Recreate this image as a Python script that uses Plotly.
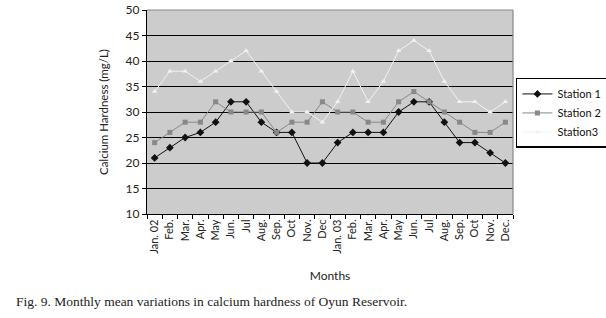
import plotly.graph_objects as go

months = ["Jan. 02", "Feb.", "Mar.", "Apr.", "May", "Jun.", "Jul", "Aug.", "Sep.", "Oct", "Nov.", "Dec",
          "Jan. 03", "Feb.", "Mar.", "Apr.", "May", "Jun.", "Jul", "Aug.", "Sep.", "Oct", "Nov.", "Dec."]
station1 = [21, 23, 25, 26, 28, 32, 32, 28, 26, 26, 20, 20, 24, 26, 26, 26, 30, 32, 32, 28, 24, 24, 22, 20]
station2 = [24, 26, 28, 28, 32, 30, 30, 30, 26, 28, 28, 32, 30, 30, 28, 28, 32, 34, 32, 30, 28, 26, 26, 28]
station3 = [34, 38, 38, 36, 38, 40, 42, 38, 34, 30, 30, 28, 32, 38, 32, 36, 42, 44, 42, 36, 32, 32, 30, 32]
y_ticks = [10, 15, 20, 25, 30, 35, 40, 45, 50]

x = list(range(len(months)))
font = "Lato, Open Sans, DejaVu Sans, sans-serif"

fig = go.Figure()
fig.add_trace(go.Scatter(x=x, y=station1, name="Station 1", mode="lines+markers",
                         line=dict(color="#111111", width=1),
                         marker=dict(symbol="diamond", size=6, color="#111111")))
fig.add_trace(go.Scatter(x=x, y=station2, name="Station 2", mode="lines+markers",
                         line=dict(color="#888888", width=1),
                         marker=dict(symbol="square", size=5, color="#888888")))
fig.add_trace(go.Scatter(x=x, y=station3, name="Station3", mode="lines+markers",
                         line=dict(color="#f2f2f2", width=1),
                         marker=dict(symbol="triangle-up", size=5, color="#f2f2f2")))

fig.update_layout(
    width=606, height=318,
    margin=dict(l=147, r=93, t=10, b=104, autoexpand=False),
    paper_bgcolor="white", plot_bgcolor="#cccccc",
    font=dict(family=font, size=10, color="#222222"),
    showlegend=True,
    legend=dict(x=1.008, y=0.667, xanchor="left", yanchor="top",
                bordercolor="black", borderwidth=1.5, bgcolor="white",
                font=dict(size=11, color="#111111"),
                itemwidth=30),
)
fig.update_xaxes(
    automargin=False,
    range=[-0.5, len(months) - 0.5],
    tickmode="array", tickvals=x, ticktext=months, tickangle=-90,
    ticks="", showgrid=False, zeroline=False,
    showline=True, linecolor="black", linewidth=1.2,
    tickfont=dict(size=11),
    minor=dict(tickvals=[i - 0.5 for i in range(len(months) + 1)], ticks="outside",
               ticklen=4, tickcolor="black", showgrid=False),
    title=dict(text="Months", font=dict(size=12), standoff=18),
)
fig.update_yaxes(
    automargin=False,
    range=[10, 50], tickmode="array", tickvals=y_ticks,
    ticks="outside", ticklen=4, tickcolor="black",
    showgrid=False, zeroline=False,
    showline=True, linecolor="black", linewidth=1.2,
    tickfont=dict(size=12),
    minor=dict(tickvals=y_ticks[1:-1], showgrid=True, gridcolor="black", gridwidth=1, ticks=""),
    title=dict(text="Calcium Hardness (mg/L)", font=dict(size=11.5), standoff=14),
)
fig.add_shape(type="line", xref="x domain", yref="y domain", x0=0, x1=1, y0=1, y1=1,
              line=dict(color="#888888", width=1.2))
fig.add_shape(type="line", xref="x domain", yref="y domain", x0=1, x1=1, y0=0, y1=1,
              line=dict(color="#888888", width=1.2))
fig.add_annotation(text="Fig. 9. Monthly mean variations in calcium hardness of Oyun Reservoir.",
                   xref="paper", yref="paper", x=-147 / 366, y=-87 / 204,
                   xanchor="left", yanchor="middle", showarrow=False,
                   xshift=14, font=dict(family="Liberation Serif, Times New Roman, serif", size=13.5, color="#222222"))

fig.write_html("out.html", config={"displayModeBar": False},
               post_script="document.body.style.margin='0';document.body.style.overflow='hidden';")
